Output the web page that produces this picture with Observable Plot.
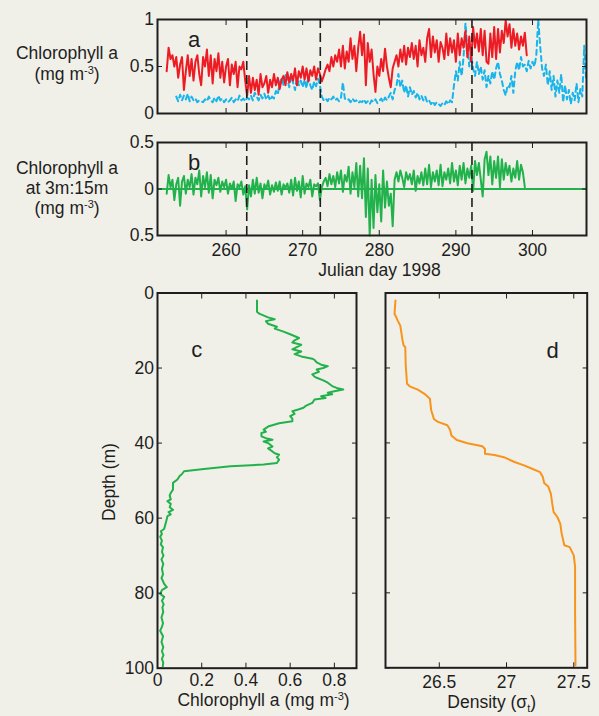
<!DOCTYPE html>
<html><head><meta charset="utf-8">
<script src="https://cdn.jsdelivr.net/npm/d3@7"></script>
<script src="https://cdn.jsdelivr.net/npm/@observablehq/plot@0.6"></script>
<style>
html,body{margin:0;padding:0;background:#f1f0e8;}
#fig{position:relative;width:599px;height:716px;background:#f1f0e8;font-family:"Liberation Sans",Arial,Helvetica,sans-serif;color:#1e1e1e;overflow:hidden}
#fig svg{position:absolute;overflow:visible}
.lab{position:absolute;font-size:17.5px;white-space:nowrap;line-height:17px}
.sup{font-size:11px;position:relative;top:-6px;line-height:10px}
.sub{font-size:11px;position:relative;top:4px;line-height:10px}
</style></head><body><div id="fig"></div>
<script>
// ---------- data ----------
const sampleStep = 0.25; // days between samples
const redStart = 252.25;
const redChl = [
0.45,0.70,0.58,0.62, 0.50,0.60,0.38,0.52, 0.60,0.25,0.45,0.62, 0.40,0.58,0.35,0.55,
0.62,0.42,0.30,0.60, 0.50,0.68,0.40,0.62, 0.32,0.58,0.45,0.64, 0.38,0.55,0.33,0.50,
0.58,0.30,0.52,0.42, 0.55,0.28,0.50,0.47, 0.55,0.35,0.19,0.40, 0.22,0.38,0.25,0.36,
0.20,0.42,0.28,0.32, 0.40,0.22,0.36,0.28, 0.42,0.30,0.38,0.26, 0.36,0.40,0.30,0.44,
0.33,0.42,0.35,0.48, 0.30,0.45,0.38,0.50, 0.36,0.48,0.34,0.46, 0.40,0.50,0.36,0.48,
0.42,0.34,0.40,0.47, 0.52,0.45,0.60,0.50, 0.62,0.55,0.68,0.50, 0.72,0.48,0.66,0.55,
0.80,0.58,0.72,0.45, 0.70,0.87,0.62,0.84, 0.30,0.75,0.55,0.68, 0.42,0.23,0.50,0.40,
0.58,0.45,0.69,0.50, 0.38,0.28,0.48,0.55, 0.62,0.50,0.68,0.55, 0.72,0.52,0.70,0.60,
0.75,0.58,0.72,0.50, 0.78,0.62,0.70,0.55, 0.80,0.90,0.60,0.82, 0.65,0.78,0.55,0.76,
0.70,0.58,0.85,0.62, 0.80,0.65,0.78,0.55, 0.85,0.62,0.80,0.70, 0.88,0.60,0.82,0.55,
0.92,0.70,0.85,0.66, 0.90,0.62,0.88,0.55, 0.53,0.85,0.60,0.92, 0.58,0.90,0.65,0.88,
0.75,0.99,0.82,0.95, 0.70,0.90,0.72,0.85, 0.68,0.82,0.72,0.86, 0.62
];
const blueStart = 253.5;
const blueChl = [
0.18,0.13,
0.20,0.14,0.19,0.15, 0.21,0.13,0.18,0.14, 0.16,0.12,0.14,0.13, 0.12,0.15,0.13,0.18,
0.14,0.12,0.17,0.13, 0.19,0.14,0.16,0.12, 0.15,0.12,0.14,0.17, 0.12,0.15,0.13,0.19,
0.14,0.16,0.13,0.17, 0.15,0.19,0.14,0.22, 0.18,0.14,0.20,0.16, 0.21,0.15,0.19,0.14,
0.18,0.16,0.24,0.20, 0.33,0.38,0.30,0.42, 0.36,0.28,0.40,0.33, 0.25,0.38,0.30,0.35,
0.28,0.36,0.27,0.40, 0.30,0.25,0.34,0.29, 0.37,0.30,0.18,0.14, 0.16,0.13,0.17,0.15,
0.18,0.14,0.16,0.13, 0.17,0.33,0.16,0.14, 0.15,0.12,0.16,0.13, 0.14,0.11,0.13,0.12,
0.15,0.11,0.13,0.10, 0.14,0.12,0.15,0.11, 0.13,0.16,0.12,0.17, 0.14,0.18,0.22,0.15,
0.25,0.30,0.42,0.28, 0.35,0.22,0.30,0.18, 0.28,0.20,0.24,0.17, 0.22,0.15,0.19,0.14,
0.18,0.12,0.14,0.10, 0.13,0.09,0.12,0.10, 0.08,0.11,0.09,0.13, 0.10,0.14,0.12,0.30,
0.45,0.35,0.55,0.40, 0.60,0.96,0.70,0.50, 0.62,0.48,0.40,0.55, 0.42,0.50,0.36,0.46,
0.28,0.40,0.32,0.45, 0.36,0.48,0.55,0.42, 0.35,0.25,0.19,0.30, 0.28,0.40,0.22,0.45,
0.55,0.46,0.60,0.50, 0.52,0.45,0.56,0.48, 0.55,0.50,0.62,1.00, 0.72,0.48,0.40,0.52,
0.30,0.45,0.25,0.40, 0.18,0.35,0.22,0.42, 0.12,0.30,0.15,0.25, 0.10,0.22,0.14,0.32,
0.12,0.26,0.18,0.72, 0.35
];
const diffStart = 252.25;
const diffChl = [
-0.05,0.15,0.02,0.10, -0.12,0.05,0.12,-0.18, 0.08,0.14,-0.05,0.10, 0.02,0.16,-0.06,0.12,
0.05,0.20,-0.08,0.14, 0.02,0.18,-0.04,0.15, -0.10,0.10,0.04,0.12, -0.03,0.08,0.02,0.10,
-0.05,0.06,0.00,0.08, -0.13,0.05,0.02,0.08, -0.06,0.03,-0.22,0.04, -0.08,0.10,-0.05,0.12,
-0.04,0.06,-0.10,0.05, 0.00,0.09,-0.06,0.04, -0.03,0.07,-0.02,0.08, -0.06,0.05,0.01,0.06,
-0.04,0.10,-0.07,0.12, -0.02,0.08,-0.09,0.14, -0.05,0.06,0.02,0.10, -0.08,0.05,0.03,0.06,
-0.12,0.02,0.08,0.12, 0.03,0.16,0.05,0.14, 0.02,0.18,0.06,0.20, -0.03,0.15,0.08,0.24,
-0.05,0.18,0.02,0.28, -0.08,0.25,-0.10,0.33, -0.30,0.22,-0.50,0.10, -0.42,0.15,-0.25,0.05,
-0.35,0.20,-0.20,0.08, -0.18,-0.05,-0.40,0.10, 0.18,0.08,0.20,0.12, 0.02,0.18,0.10,0.16,
0.05,0.20,-0.02,0.14, 0.06,0.18,0.04,0.22, 0.05,0.26,0.02,0.18, 0.08,0.20,0.04,0.26,
0.03,0.18,0.10,0.22, 0.06,0.28,0.08,0.20, 0.04,0.25,0.10,0.28, 0.06,0.22,0.12,0.25,
-0.02,0.30,0.15,0.28, 0.10,-0.08,0.32,0.40, 0.15,0.35,0.05,0.30, 0.12,0.35,0.02,0.32,
0.10,0.28,0.15,0.25, 0.08,0.22,0.12,0.30, 0.10,0.26,0.18,0.02
];
const eventDays = [262.7, 272.3, 292.1];
const dayTicks = [260, 270, 280, 290, 300];
const chlTicks = [0, 0.5, 1];
const diffTicks = [-0.5, 0, 0.5];

const depthC = [2,5,5.5,6.5,7,7.5,8.2,9,9.5,10.3, 11,12,12.6,13.2,13.8,14.4,15,15.6,16.3,16.9,
17.5,17.8,18.5,19.1,19.5,20,20.4,21,21.7,22.3, 22.6,23.3,23.9,24.8,25.3,25.7,26.2,26.6,27,27.5,
28,28.4,29.3,30.1,30.6,31,31.5,32.2,32.8,33.5, 34.2,34.7,35.6,36.4,37,37.3,38.2,38.7,39.1,39.6,
40,40.9,41.4,41.8,42.7,43.1,43.8,44.4,45.3,45.7, 46.2,46.9,47.5,48.3,48.8,49.7,50.6,51.5,52.4,53.3,
54,55,55.5,56.2,57.1,57.8,58.4,59,59.5,60.7, 61.8,62.9,63.5,64.2,65,66,67,67.8,69,70,
71,72.2,73.5,75,76,76.7,77.5,78.4,79.2,80.2, 81,82,83,83.8,85,86.5,88,89,90,91.5,
93,94.4,95.5,96.5,97.5,98.5,99.5];
const chlC = [0.45,0.45,0.46,0.50,0.53,0.49,0.50,0.54,0.53,0.57, 0.60,0.64,0.62,0.61,0.65,0.63,0.61,0.65,0.62,0.65,
0.70,0.71,0.72,0.74,0.77,0.75,0.72,0.73,0.70,0.71, 0.72,0.75,0.77,0.79,0.81,0.84,0.80,0.77,0.79,0.74,
0.76,0.71,0.70,0.67,0.66,0.64,0.61,0.62,0.60,0.61, 0.61,0.55,0.50,0.48,0.49,0.47,0.47,0.49,0.52,0.48,
0.50,0.52,0.50,0.51,0.53,0.55,0.54,0.55,0.54,0.48, 0.33,0.21,0.12,0.11,0.10,0.09,0.07,0.07,0.07,0.06,
0.055,0.06,0.045,0.06,0.055,0.07,0.05,0.06,0.045,0.04, 0.035,0.03,0.015,0.02,0.012,0.02,0.015,0.025,0.02,0.027,
0.018,0.026,0.02,0.025,0.018,0.024,0.03,0.042,0.02,0.012, 0.03,0.02,0.028,0.022,0.026,0.018,0.025,0.02,0.012,0.025,
0.018,0.026,0.02,0.027,0.02,0.026,0.024];
const depthD = [2,5.6,6.3,7.3,8.7,12.7,14,14.4,18.9,24.2, 24.9,25.8,26.9,28.2,31.3,33.6,34.4,35.3,36.5,38,
39.2,40.1,40.9,41.6,42.9,43.2,43.8,45.1,46,46.9, 47.8,49.1,50.7,51.6,53.6,56.2,58.4,59.9,61.6,64.2,
67.3,67.8,70,73.1,85.6,99.3];
const sigmaD = [26.174,26.167,26.178,26.19,26.21,26.227,26.235,26.247,26.25,26.26, 26.28,26.34,26.39,26.43,26.44,26.46,26.49,26.56,26.58,26.59,
26.63,26.71,26.82,26.84,26.84,26.91,26.98,27.06,27.13,27.19, 27.25,27.27,27.28,27.31,27.33,27.34,27.35,27.38,27.40,27.41,
27.43,27.47,27.50,27.51,27.51,27.513];
const chlTicksC = [0, 0.2, 0.4, 0.6, 0.8];
const depthTicks = [0, 20, 40, 60, 80, 100];
const sigmaTicks = [26.5, 27, 27.5];

// ---------- helpers ----------
const INK = "#1e1e1e";
const RED = "#ed1c24", BLUE = "#18b4ec", GREEN = "#22b24c", ORANGE = "#f7941d";
const FONT = '"Liberation Sans", Arial, Helvetica, sans-serif';
const series = (start, vals) => vals.map((v, i) => ({day: start + i * sampleStep, v}));
const red = series(redStart, redChl);
const blue = series(blueStart, blueChl);
const diff = series(diffStart, diffChl);
const profC = depthC.map((d, i) => ({depth: d, v: chlC[i]}));
const profD = depthD.map((d, i) => ({depth: d, v: sigmaD[i]}));
const blank = () => "";

function boxAxes(xt, yt, {xFmt = null, yFmt = null, xPad = 14, yPad = 8.5} = {}) {
  return [
    Plot.axisX(xt, {anchor: "bottom", tickSize: -5, tickPadding: xPad, tickFormat: xFmt || blank, label: null, stroke: INK}),
    Plot.axisX(xt, {anchor: "top", tickSize: -5, tickFormat: blank, label: null, stroke: INK}),
    Plot.axisY(yt, {anchor: "left", tickSize: -5, tickPadding: yPad, tickFormat: yFmt || blank, label: null, stroke: INK}),
    Plot.axisY(yt, {anchor: "right", tickSize: -5, tickFormat: blank, label: null, stroke: INK}),
    Plot.frame({stroke: INK, strokeWidth: 2})
  ];
}
const letter = (s, anchor, dx, dy) => Plot.text([s], {text: d => d, frameAnchor: anchor, dx, dy, fontSize: 22, fill: INK, textAnchor: "middle", lineAnchor: "middle"});
const style = {background: "transparent", fontSize: "17.5px", fontFamily: FONT, color: INK, overflow: "visible"};

const fig = document.getElementById("fig");
function place(svg, left, top) { svg.style.left = left + "px"; svg.style.top = top + "px"; fig.appendChild(svg); }

// ---------- panel a ----------
const pa = Plot.plot({
  width: 599, height: 125, marginLeft: 157, marginRight: 13, marginTop: 19, marginBottom: 12,
  style,
  x: {domain: [251.05, 307.05]},
  y: {domain: [0, 1]},
  marks: [
    Plot.line(blue, {x: "day", y: "v", stroke: BLUE, strokeWidth: 2, strokeDasharray: "5,4"}),
    Plot.line(red, {x: "day", y: "v", stroke: RED, strokeWidth: 2}),
    Plot.ruleX(eventDays, {stroke: INK, strokeWidth: 1.6, strokeDasharray: "9,5"}),
    ...boxAxes(dayTicks, chlTicks, {yFmt: d => String(d)}),
    letter("a", "top-left", 36.7, 20.5)
  ]
});
place(pa, 0, 0);

// ---------- panel b ----------
const pb = Plot.plot({
  width: 599, height: 160, marginLeft: 157, marginRight: 13, marginTop: 17, marginBottom: 50,
  style,
  x: {domain: [251.05, 307.05]},
  y: {domain: [-0.5, 0.5]},
  marks: [
    Plot.ruleY([0], {stroke: GREEN, strokeWidth: 2}),
    Plot.line(diff, {x: "day", y: "v", stroke: GREEN, strokeWidth: 2}),
    Plot.ruleX(eventDays, {stroke: INK, strokeWidth: 1.6, strokeDasharray: "9,5"}),
    ...boxAxes(dayTicks, diffTicks, {xFmt: d => String(d), yFmt: d => String(Math.abs(d)), xPad: 13.5}),
    letter("b", "top-left", 36.7, 20.6)
  ]
});
place(pb, 0, 125);

// ---------- panel c ----------
const pc = Plot.plot({
  width: 370, height: 436, marginLeft: 157, marginRight: 14, marginTop: 12.5, marginBottom: 48.3,
  style,
  x: {domain: [0, 0.9]},
  y: {domain: [0, 100], reverse: true},
  marks: [
    Plot.line(profC, {x: "v", y: "depth", stroke: GREEN, strokeWidth: 2}),
    ...boxAxes(chlTicksC, depthTicks, {xFmt: d => String(d), yFmt: d => String(d), xPad: 10}),
    letter("c", "top-left", 39.3, 56.8)
  ]
});
place(pc, 0, 280);

// ---------- panel d ----------
const pd = Plot.plot({
  width: 229, height: 436, marginLeft: 15, marginRight: 12.3, marginTop: 12.5, marginBottom: 48.7,
  style,
  x: {domain: [26.1, 27.6]},
  y: {domain: [0, 100], reverse: true},
  marks: [
    Plot.line(profD, {x: "v", y: "depth", stroke: ORANGE, strokeWidth: 2}),
    ...boxAxes(sigmaTicks, depthTicks, {xFmt: d => String(d), xPad: 12.5}),
    letter("d", "top-right", -34.7, 58.1)
  ]
});
place(pd, 370, 280);

// ---------- axis titles ----------
function label(html, css) {
  const div = document.createElement("div");
  div.className = "lab";
  div.innerHTML = html;
  Object.assign(div.style, css);
  fig.appendChild(div);
}
label('Chlorophyll a<br>(mg m<span class="sup">-3</span>)', {left: "0px", width: "134px", top: "43px", textAlign: "center", lineHeight: "20.5px"});
label('Chlorophyll a<br>at 3m:15m<br>(mg m<span class="sup">-3</span>)', {left: "0px", width: "134px", top: "158px", textAlign: "center", lineHeight: "20px"});
label('Julian day 1998', {left: "379.5px", top: "264.5px", lineHeight: "10px", transform: "translateX(-50%)"});
label('Depth (m)', {left: "108.6px", top: "481.5px", transform: "translate(-50%,-50%) rotate(-90deg)"});
label('Chlorophyll a (mg m<span class="sup">-3</span>)', {left: "263.5px", top: "694px", lineHeight: "12px", transform: "translateX(-50%)"});
label('Density (&sigma;<span class="sub">t</span>)', {left: "491.7px", top: "696px", lineHeight: "12px", transform: "translateX(-50%)"});
</script></body></html>
